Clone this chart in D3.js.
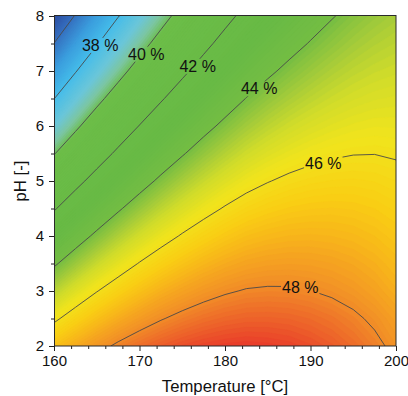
<!DOCTYPE html>
<html><head><meta charset="utf-8">
<script src="https://cdn.jsdelivr.net/npm/d3@7"></script>
<style>
body{margin:0;background:#fff}
svg{display:block}
text{font-family:Arial,"Liberation Sans",sans-serif}
</style>
</head><body>
<svg id="chart" width="408" height="396"></svg>
<script>
// ---- data ----
const temperatures = [160,162.5,165,167.5,170,172.5,175,177.5,180,182.5,185,187.5,190,192.5,195,197.5,200];
const phValues = [2,2.5,3,3.5,4,4.5,5,5.5,6,6.5,7,7.5,8];
// yield [%], one row per pH value (pH 2 first), one column per temperature
const yieldGrid = [
  [46.83,47.32,47.75,48.13,48.45,48.71,48.92,49.07,49.16,49.20,49.16,49.08,48.93,48.73,48.48,48.18,47.81],
  [45.85,46.38,46.86,47.28,47.64,47.95,48.20,48.40,48.54,48.62,48.63,48.59,48.49,48.34,48.13,47.87,47.55],
  [44.86,45.44,45.97,46.43,46.84,47.20,47.49,47.73,47.92,48.05,48.09,48.08,48.01,47.89,47.73,47.51,47.23],
  [43.88,44.50,45.07,45.58,46.04,46.44,46.78,47.07,47.30,47.47,47.56,47.59,47.57,47.50,47.38,47.21,46.98],
  [42.90,43.57,44.18,44.74,45.24,45.68,46.07,46.40,46.68,46.90,47.03,47.11,47.13,47.10,47.03,46.90,46.72],
  [41.91,42.63,43.29,43.89,44.44,44.93,45.36,45.74,46.06,46.32,46.50,46.62,46.69,46.71,46.68,46.60,46.46],
  [40.93,41.69,42.39,43.04,43.63,44.17,44.65,45.07,45.44,45.75,45.97,46.14,46.25,46.31,46.33,46.29,46.20],
  [39.95,40.75,41.50,42.19,42.83,43.41,43.93,44.40,44.81,45.17,45.44,45.65,45.81,45.92,45.98,45.99,45.94],
  [38.96,39.81,40.61,41.35,42.03,42.65,43.22,43.74,44.19,44.59,44.91,45.17,45.37,45.52,45.63,45.69,45.68],
  [37.98,38.88,39.72,40.50,41.23,41.90,42.51,43.07,43.57,44.02,44.38,44.68,44.93,45.13,45.28,45.38,45.43],
  [37.00,37.94,38.82,39.65,40.43,41.14,41.80,42.40,42.95,43.44,43.85,44.20,44.49,44.74,44.94,45.08,45.17],
  [36.01,37.00,37.93,38.80,39.62,40.38,41.09,41.74,42.33,42.87,43.32,43.71,44.05,44.34,44.59,44.78,44.91],
  [35.03,36.06,37.04,37.96,38.82,39.63,40.38,41.07,41.71,42.29,42.79,43.23,43.61,43.95,44.24,44.47,44.65]
];
const contourLevels = [36,38,40,42,44,46,48];
const labelLevels = [38,40,42,44,46,48];
const labelTemps = [165.4,170.8,176.8,184.0,191.5,188.8];
const labelPHs = [7.47,7.31,7.09,6.68,5.32,3.07];
const xTicks = [160,170,180,190,200];
const yTicks = [2,3,4,5,6,7,8];
const xMinorTicks = [162,164,166,168,172,174,176,178,182,184,186,188,192,194,196,198];
const yMinorTicks = [2.5,3.5,4.5,5.5,6.5,7.5];
const colorStops = [35.0,36.0,37.0,38.0,39.0,39.6,40.1,43.0,44.0,44.6,45.2,45.8,46.5,47.0,47.5,48.0,48.6,49.3];
const colorValues = ["#2c4b9f","#3570c0","#3b9ddd","#45bdea","#6cc6d8","#7cc6a0","#6cbd48","#68ba45","#74bd43","#a3cb3a","#d2dc2a","#f0e41d","#f9d014","#f8ba19","#f5a221","#f18b28","#ed642a","#e8342a"];

// ---- layout ----
const L = 54, R = 396, T = 16, B = 346;
const svg = d3.select("#chart");
const x = d3.scaleLinear([160,200],[L,R]);
const y = d3.scaleLinear([2,8],[B,T]);
const color = d3.scaleLinear().domain(colorStops).range(colorValues).clamp(true);

const nx = temperatures.length, ny = phValues.length;
const values = yieldGrid.flat();
const dT = temperatures[1]-temperatures[0], dP = phValues[1]-phValues[0];
const proj = d3.geoTransform({point(px,py){
  this.stream.point(x(temperatures[0] + (px-0.5)*dT), y(phValues[0] + (py-0.5)*dP));
}});
const path = d3.geoPath(proj);

const defs = svg.append("defs");
defs.append("clipPath").attr("id","plotclip").append("rect")
  .attr("x",L).attr("y",T).attr("width",R-L).attr("height",B-T);

// filled gradient bands
const fillThresholds = d3.range(34.9, 49.35, 0.1);
const bands = d3.contours().size([nx,ny]).thresholds(fillThresholds)(values);
svg.append("g").attr("clip-path","url(#plotclip)")
  .selectAll("path").data(bands).join("path")
  .attr("d", path)
  .attr("fill", d => color(d.value + 0.05))
  .attr("stroke", d => color(d.value + 0.05))
  .attr("stroke-width", 0.3);

// contour lines with gaps for labels
const mask = defs.append("mask").attr("id","lblmask").attr("maskUnits","userSpaceOnUse")
  .attr("x",0).attr("y",0).attr("width",408).attr("height",396);
mask.append("rect").attr("x",0).attr("y",0).attr("width",408).attr("height",396).attr("fill","#fff");

const lines = d3.contours().size([nx,ny]).thresholds(contourLevels)(values);
svg.append("g").attr("clip-path","url(#plotclip)")
  .append("g").attr("mask","url(#lblmask)")
  .selectAll("path").data(lines).join("path")
  .attr("d", path)
  .attr("fill","none")
  .attr("stroke","#4a4a4a")
  .attr("stroke-width",0.9);

const lbl = svg.append("g").selectAll("text").data(labelLevels).join("text")
  .attr("x", (d,i) => x(labelTemps[i]))
  .attr("y", (d,i) => y(labelPHs[i]))
  .attr("dy","0.36em")
  .attr("text-anchor","middle")
  .attr("font-size",16)
  .attr("fill","#111")
  .text(d => d + " %");
lbl.each(function(){
  const b = this.getBBox();
  mask.append("rect").attr("x",b.x-1).attr("y",b.y+1).attr("width",b.width+2).attr("height",b.height-2).attr("fill","#000");
});

// frame
svg.append("rect").attr("x",L+0.5).attr("y",T-0.5).attr("width",R-L-0.5).attr("height",B-T+0.5)
  .attr("fill","none").attr("stroke","#2a2a2a").attr("stroke-width",1);

// axes
function styleAxis(g){
  g.select(".domain").remove();
  g.selectAll(".tick line").attr("stroke","#222");
  g.selectAll(".tick text").attr("fill","#111").attr("font-size",15).attr("font-family",'Arial,"Liberation Sans",sans-serif');
}
svg.append("g").attr("transform",`translate(0,${B})`)
  .call(d3.axisBottom(x).tickValues(xTicks).tickSize(5).tickPadding(4).tickFormat(d3.format("d"))).call(styleAxis);
svg.append("g").attr("transform",`translate(0,${B})`)
  .call(d3.axisBottom(x).tickValues(xMinorTicks).tickSize(3).tickFormat("")).call(styleAxis);
svg.append("g").attr("transform",`translate(${L},0)`)
  .call(d3.axisLeft(y).tickValues(yTicks).tickSize(5).tickPadding(5).tickFormat(d3.format("d"))).call(styleAxis);
svg.append("g").attr("transform",`translate(${L},0)`)
  .call(d3.axisLeft(y).tickValues(yMinorTicks).tickSize(3).tickFormat("")).call(styleAxis);

// axis titles
svg.append("text").attr("x",(L+R)/2).attr("y",392).attr("text-anchor","middle")
  .attr("font-size",16.7).attr("fill","#111").text("Temperature [°C]");
svg.append("text").attr("transform",`translate(26,${(T+B)/2}) rotate(-90)`).attr("text-anchor","middle")
  .attr("font-size",16.7).attr("fill","#111").text("pH [-]");
</script>
</body></html>
